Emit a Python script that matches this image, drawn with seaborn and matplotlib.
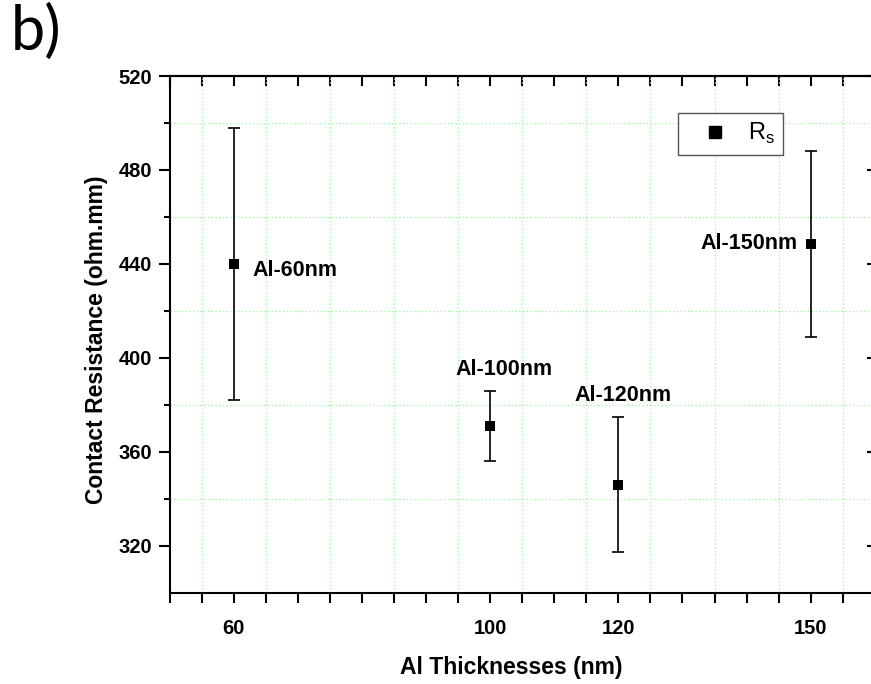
import matplotlib
matplotlib.use("Agg")
import matplotlib.pyplot as plt
import seaborn as sns
import numpy as np
import pandas as pd
from matplotlib.ticker import FixedLocator, FuncFormatter
from matplotlib.lines import Line2D

# ---- data ----
thickness = [60, 100, 120, 150]
resistance = [440, 371, 346, 448.5]
res_err = [58, 15, 28.6, 39.5]
point_labels = ["Al-60nm", "Al-100nm", "Al-120nm", "Al-150nm"]
xtick_labels = [60, 100, 120, 150]
ytick_values = [320, 360, 400, 440, 480, 520]

df = pd.DataFrame({"x": thickness, "y": resistance, "err": res_err})

sns.set_style("white")
plt.rcParams["font.family"] = ["Liberation Sans", "DejaVu Sans"]
plt.rcParams["mathtext.fontset"] = "custom"
plt.rcParams["mathtext.rm"] = "Liberation Sans"
for k in ["text.color", "axes.labelcolor", "xtick.color", "ytick.color",
          "xtick.labelcolor", "ytick.labelcolor", "axes.edgecolor"]:
    plt.rcParams[k] = "black"

fig = plt.figure(figsize=(8.71, 6.84), dpi=100)
ax = fig.add_axes([169.6 / 871, 1 - 592.7 / 684, 705.2 / 871, 516.7 / 684])

# error bars
ax.errorbar(df["x"], df["y"], yerr=df["err"], fmt="none", ecolor="black",
            elinewidth=1.2, capsize=4.2, capthick=1.2, zorder=2)
# markers
sns.scatterplot(data=df, x="x", y="y", marker="s", color="black", s=62,
                linewidth=0, ax=ax, zorder=3, legend=False)

ax.set_xlim(50, 160)
ax.set_ylim(300, 520)

# x ticks
ax.xaxis.set_major_locator(FixedLocator(np.arange(50, 161, 10)))
ax.xaxis.set_minor_locator(FixedLocator(np.arange(55, 160, 10)))
ax.xaxis.set_major_formatter(FuncFormatter(
    lambda v, p: f"{int(round(v))}" if int(round(v)) in xtick_labels else ""))
ax.tick_params(axis="x", which="both", direction="out", length=7.2, width=1.5,
               bottom=True, top=False, labelsize=14.5, pad=12, colors="black")
# y ticks
ax.yaxis.set_major_locator(FixedLocator(ytick_values))
ax.yaxis.set_minor_locator(FixedLocator(np.arange(340, 520, 40)))
ax.tick_params(axis="y", which="major", direction="out", length=7.7, width=1.5,
               left=True, right=False, labelsize=14.5, pad=5, colors="black")
ax.tick_params(axis="y", which="minor", direction="out", length=4.3, width=1.5,
               left=True, right=False, colors="black")
for lab in ax.get_xticklabels() + ax.get_yticklabels():
    lab.set_fontweight("bold")

# top / right ticks pointing inward
top = ax.secondary_xaxis("top")
top.xaxis.set_major_locator(FixedLocator(np.arange(50, 161, 5)))
top.tick_params(direction="in", length=7.2, width=1.5, labeltop=False, colors="black")
right = ax.secondary_yaxis("right")
right.yaxis.set_major_locator(FixedLocator(ytick_values))
right.yaxis.set_minor_locator(FixedLocator(np.arange(340, 520, 40)))
right.tick_params(which="major", direction="in", length=6, width=1.5, labelright=False,
                  colors="black")
right.tick_params(which="minor", direction="in", length=3, width=1.5, colors="black")
for sp in list(top.spines.values()) + list(right.spines.values()):
    sp.set_linewidth(1.5)
    sp.set_color("black")

for sp in ax.spines.values():
    sp.set_linewidth(1.5)
    sp.set_color("black")
    sp.set_visible(True)

# grid at minor positions
ax.grid(False, which="major")
ax.grid(True, which="minor", color="#9cf59c", linestyle=(0, (1, 2)), linewidth=0.9)
ax.set_axisbelow(True)

# axis labels
ax.set_xlabel("Al Thicknesses (nm)", fontsize=16.5, fontweight="bold", color="black")
ax.set_ylabel("Contact Resistance (ohm.mm)", fontsize=16.5, fontweight="bold", color="black")
ax.xaxis.label.set_va("center")
ax.yaxis.label.set_va("center")
ax.xaxis.set_label_coords(0.484, -0.1448)
ax.yaxis.set_label_coords(-0.104, 0.489)

# point annotations (offsets in points relative to each marker)
offsets = [(13.7, -4.5, "left"), (10, 40.5, "center"), (3.3, 64.5, "center"), (-9.1, 0, "right")]
for xv, yv, lab, (dx, dy, ha) in zip(thickness, resistance, point_labels, offsets):
    ax.annotate(lab, (xv, yv), xytext=(dx, dy), textcoords="offset points",
                ha=ha, va="center", fontsize=15.5, fontweight="bold", color="black")

# legend
handle = Line2D([], [], marker="s", color="black", linestyle="none", markersize=8)
leg = ax.legend([handle], [r"R$_{\mathregular{s}}$"], loc="upper left",
                bbox_to_anchor=(678 / 871, 1 - 113 / 684), bbox_transform=fig.transFigure,
                borderaxespad=0, fontsize=17, frameon=True, fancybox=False,
                framealpha=1, edgecolor="#555555", handlelength=2.4,
                handletextpad=0.2, borderpad=0.35)
leg.get_frame().set_linewidth(1.0)
for t in leg.get_texts():
    t.set_color("black")

# panel label
fig.text(11 / 871, 1 - 4 / 684, "b)", fontsize=44, family=["Lato", "DejaVu Sans"],
         ha="left", va="top", color="black")

fig.savefig("out.png", dpi=100)
